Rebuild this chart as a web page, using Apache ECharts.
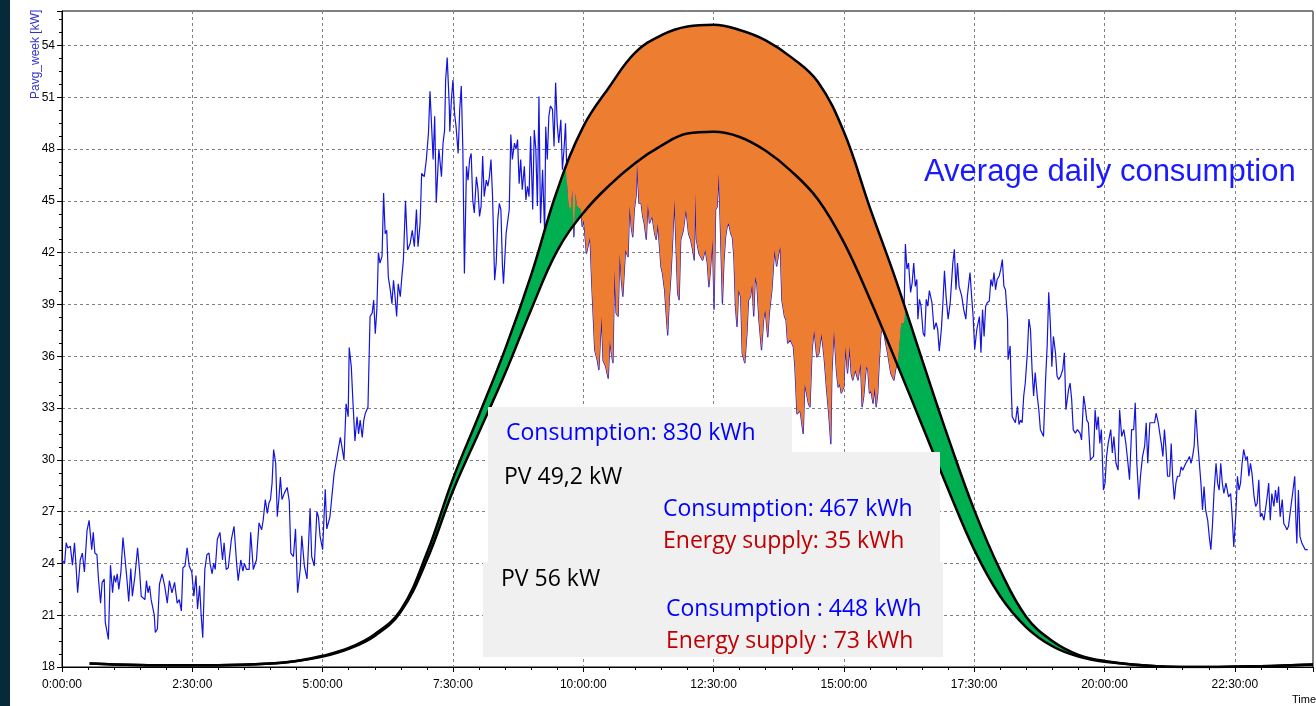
<!DOCTYPE html>
<html>
<head>
<meta charset="utf-8">
<title>Average daily consumption</title>
<script src="https://cdn.jsdelivr.net/npm/echarts@6.0.0/dist/echarts.min.js"></script>
<style>
  html, body { margin: 0; padding: 0; background: #fff; }
  #main { width: 1316px; height: 706px; }
</style>
</head>
<body>
<div id="main"></div>
<script>
// PV production curves (kW) read at these hours
var pvHours = [0.53, 1, 2, 3, 4, 4.5, 5, 5.5, 6, 6.5, 7, 7.5, 8, 8.5, 9, 9.5, 10, 10.5, 11, 11.5, 12, 12.5, 13, 13.5, 14, 14.5, 15, 15.5, 16, 16.5, 17, 17.5, 18, 18.5, 19, 19.5, 20, 21, 22, 23, 24];
var pv56 = [18.2, 18.15, 18.1, 18.1, 18.2, 18.35, 18.65, 19.1, 19.9, 21.3, 24.6, 28.9, 32.6, 36.4, 40.7, 45.6, 49.3, 51.6, 53.6, 54.6, 55.1, 55.2, 54.9, 54.3, 53.3, 51.9, 49.0, 44.6, 40.4, 35.8, 31.3, 27.1, 23.6, 20.9, 19.5, 18.7, 18.35, 18.05, 18.0, 18.05, 18.15];
var pv49 = [18.2, 18.15, 18.1, 18.1, 18.2, 18.35, 18.6, 19.05, 19.8, 21.2, 24.2, 28.2, 31.6, 35.0, 38.7, 42.1, 44.3, 45.9, 47.2, 48.2, 48.9, 49.0, 48.7, 47.9, 46.7, 45.1, 42.6, 39.3, 35.7, 32.0, 28.3, 24.8, 22.1, 20.3, 19.2, 18.6, 18.3, 18.05, 18.0, 18.05, 18.15];

// Pavg_week [kW], [hour, value]
var consumption = [
[0,24.2],[0.05,24.0],[0.08,25.2],[0.11,24.9],[0.16,25.0],[0.2,23.9],[0.24,25.2],[0.27,23.8],[0.3,22.3],[0.35,24.2],
[0.39,24.6],[0.43,23.5],[0.48,25.9],[0.52,26.5],[0.57,24.8],[0.6,25.8],[0.63,24.6],[0.67,24.5],[0.7,23.1],[0.74,21.7],
[0.77,22.9],[0.81,23.1],[0.83,20.6],[0.89,19.6],[0.93,23.9],[0.97,22.3],[1.0,23.3],[1.03,22.9],[1.06,23.4],[1.09,22.5],
[1.13,23.5],[1.17,25.5],[1.24,23.3],[1.28,21.8],[1.32,23.7],[1.35,22.1],[1.4,23.3],[1.45,24.9],[1.49,23.5],[1.52,22.1],
[1.59,21.9],[1.62,23.0],[1.65,22.3],[1.68,22.7],[1.71,21.9],[1.77,21.0],[1.79,20.0],[1.83,20.2],[1.87,22.8],[1.92,23.4],
[1.97,22.7],[2.02,21.7],[2.06,23.0],[2.11,22.3],[2.16,22.9],[2.21,21.7],[2.25,21.9],[2.29,21.25],[2.32,23.75],[2.36,23.85],
[2.4,24.9],[2.44,23.85],[2.49,23.5],[2.53,22.1],[2.57,23.3],[2.6,21.35],[2.64,22.7],[2.67,21.0],[2.7,19.7],[2.74,23.65],
[2.78,24.5],[2.82,24.6],[2.84,24.0],[2.88,23.4],[2.91,24.0],[2.94,23.65],[2.98,25.4],[3.03,25.8],[3.08,24.2],[3.11,25.2],
[3.15,23.65],[3.19,23.75],[3.25,25.4],[3.3,26.15],[3.35,24.0],[3.38,23.0],[3.43,24.2],[3.47,23.55],[3.5,24.0],[3.54,23.65],
[3.59,23.65],[3.62,25.8],[3.67,23.65],[3.73,24.2],[3.78,26.35],[3.83,25.95],[3.86,26.5],[3.9,27.7],[3.94,26.9],[3.97,27.5],
[4.0,27.7],[4.03,28.65],[4.06,30.6],[4.1,29.8],[4.13,26.7],[4.16,27.7],[4.19,29.0],[4.22,27.7],[4.27,28.1],[4.32,28.4],
[4.36,27.6],[4.39,24.6],[4.44,24.4],[4.48,26.0],[4.52,22.3],[4.57,23.65],[4.6,25.6],[4.65,23.85],[4.7,23.1],[4.76,27.2],
[4.79,24.4],[4.84,23.85],[4.89,27.0],[4.92,26.7],[4.95,25.6],[5.0,24.8],[5.05,28.3],[5.08,26.0],[5.14,26.7],
[5.22,29.2],[5.28,30.25],[5.34,31.3],[5.41,30.0],[5.45,33.25],[5.49,32.5],[5.51,36.5],[5.55,35.4],[5.58,33.45],[5.62,31.1],
[5.66,32.5],[5.69,31.5],[5.72,32.3],[5.76,31.3],[5.79,32.3],[5.82,32.7],[5.87,33.05],[5.91,38.3],[5.95,38.5],[5.98,39.25],
[6.01,37.3],[6.04,38.7],[6.07,42.0],[6.1,41.4],[6.14,41.8],[6.17,45.45],[6.2,43.1],[6.23,43.3],[6.26,40.6],[6.3,39.8],
[6.33,39.05],[6.36,40.4],[6.39,39.45],[6.42,38.3],[6.45,40.2],[6.49,39.45],[6.52,40.6],[6.55,41.6],[6.59,45.0],[6.63,42.15],
[6.68,42.55],[6.72,43.3],[6.76,42.35],[6.8,44.5],[6.83,42.35],[6.87,43.7],[6.9,46.6],[6.95,46.4],[6.99,47.4],[7.03,48.9],
[7.06,51.35],[7.09,51.45],[7.12,47.4],[7.15,49.9],[7.18,44.9],[7.23,48.0],[7.28,46.4],[7.31,48.35],[7.34,49.1],[7.36,52.0],
[7.39,53.3],[7.43,50.5],[7.44,49.0],[7.47,50.85],[7.5,52.0],[7.53,50.1],[7.56,49.3],[7.6,47.75],[7.63,50.3],[7.66,51.65],
[7.69,48.0],[7.72,40.8],[7.76,47.0],[7.79,46.2],[7.82,47.4],[7.85,47.75],[7.88,45.05],[7.91,44.3],[7.95,46.4],[7.98,45.65],
[8.01,44.1],[8.04,44.7],[8.07,47.6],[8.1,45.25],[8.14,46.2],[8.17,45.85],[8.2,46.4],[8.23,47.4],[8.26,45.25],[8.3,40.4],
[8.33,41.4],[8.36,43.9],[8.39,44.85],[8.42,44.5],[8.45,41.2],[8.47,40.2],[8.52,43.1],[8.55,43.1],[8.58,44.5],[8.61,48.85],
[8.64,47.4],[8.68,48.35],[8.71,48.0],[8.74,48.55],[8.77,46.0],[8.8,47.4],[8.83,45.65],[8.87,47.0],[8.9,45.05],[8.93,45.85],
[8.96,45.25],[8.99,48.75],[9.03,44.5],[9.06,49.1],[9.09,48.0],[9.12,44.7],[9.15,51.05],[9.18,43.7],[9.22,46.8],[9.26,43.1],
[9.28,49.3],[9.31,47.4],[9.34,49.9],[9.37,50.5],[9.41,50.3],[9.44,48.15],[9.47,51.85],[9.5,49.5],[9.53,48.35],[9.57,49.7],
[9.6,46.8],[9.63,47.95],[9.66,49.5],[9.69,46.0],[9.72,44.7],[9.76,44.5],[9.79,45.65],[9.82,42.9],[9.85,45.45],[9.88,44.7],
[9.95,44.5],[9.98,43.5],[10.01,43.9],
[10.06,41.95],[10.13,42.9],[10.16,40.4],[10.22,36.35],[10.27,35.75],[10.3,35.2],[10.35,38.3],[10.38,35.75],[10.43,35.4],[10.48,34.7],
[10.51,36.9],[10.54,36.15],[10.57,35.6],[10.6,41.0],[10.63,38.5],[10.67,38.3],[10.7,41.95],[10.73,40.4],[10.76,39.45],[10.81,42.15],
[10.86,41.75],[10.89,44.7],[10.92,43.5],[10.95,42.9],[10.98,44.5],[11.02,45.45],[11.03,47.3],[11.07,44.85],[11.11,44.85],[11.14,44.1],
[11.17,43.7],[11.21,42.75],[11.24,44.85],[11.27,43.7],[11.32,44.1],[11.37,43.1],[11.4,42.75],[11.43,43.7],[11.49,41.2],[11.52,40.8],
[11.56,39.85],[11.59,38.5],[11.62,37.2],[11.65,39.25],[11.68,40.6],[11.71,42.35],[11.75,45.05],[11.78,42.35],[11.81,39.65],[11.84,39.25],
[11.87,42.75],[11.92,43.3],[11.97,44.5],[12.02,43.1],[12.06,42.75],[12.1,42.15],[12.13,41.55],[12.15,45.45],[12.17,42.75],[12.22,41.95],
[12.29,41.55],[12.34,42.15],[12.38,41.4],[12.41,40.0],[12.44,41.0],[12.48,42.75],[12.51,38.7],[12.54,44.5],[12.57,44.65],[12.6,46.6],
[12.63,43.5],[12.67,39.05],[12.7,41.55],[12.73,42.9],[12.76,43.5],[12.79,43.7],[12.83,43.1],[12.86,42.9],[12.89,41.75],[12.92,38.85],
[12.95,37.7],[12.98,39.85],[13.02,39.45],[13.05,36.15],[13.1,35.6],[13.14,37.3],[13.17,39.25],[13.21,39.45],[13.24,40.2],[13.27,38.3],
[13.3,40.6],[13.33,40.2],[13.37,38.1],[13.42,36.35],[13.46,38.1],[13.49,38.7],[13.54,37.1],[13.57,38.5],[13.62,39.85],[13.67,42.15],
[13.71,41.2],[13.75,41.95],[13.78,42.35],[13.81,39.25],[13.86,38.3],[13.89,38.1],[13.92,36.75],[13.97,36.95],[14.03,36.55],[14.06,35.4],
[14.1,32.65],[14.16,32.85],[14.22,31.5],[14.25,34.4],[14.32,33.25],[14.35,33.05],[14.39,36.35],[14.43,37.5],[14.48,35.95],[14.52,36.15],
[14.57,37.3],[14.62,35.95],[14.67,34.0],[14.71,32.65],[14.75,30.9],[14.77,35.0],[14.81,37.5],[14.86,35.0],[14.89,34.2],[14.92,34.4],
[14.95,33.85],[15.0,34.2],[15.03,36.55],[15.07,35.0],[15.11,36.55],[15.14,35.0],[15.17,34.6],[15.22,35.2],[15.27,34.6],[15.32,35.6],
[15.35,33.05],[15.38,33.65],[15.43,35.4],[15.46,35.2],[15.49,33.85],[15.52,34.0],[15.56,33.25],[15.59,34.2],[15.62,33.05],[15.65,33.85],
[15.68,35.75],[15.71,37.3],[15.75,37.7],[15.79,36.95],[15.84,36.15],[15.9,35.0],[15.96,34.6],
[15.99,35.2],[16.04,35.8],[16.1,37.9],[16.15,37.9],[16.18,42.5],[16.21,41.05],[16.24,41.4],[16.28,39.7],[16.31,40.25],[16.34,41.4],
[16.37,40.05],[16.4,40.45],[16.42,38.15],[16.45,39.3],[16.48,38.9],[16.52,37.35],[16.55,37.15],[16.58,39.3],[16.61,38.9],[16.64,39.8],
[16.69,39.1],[16.73,37.55],[16.77,37.95],[16.8,37.55],[16.83,36.3],[16.87,37.55],[16.9,39.1],[16.93,40.95],[16.96,39.5],[17.0,38.15],
[17.04,39.1],[17.09,41.4],[17.12,42.2],[17.15,39.85],[17.18,41.4],[17.21,40.05],[17.26,39.5],[17.3,38.7],[17.34,38.15],[17.37,39.5],
[17.42,40.85],[17.45,39.5],[17.48,38.3],[17.51,36.4],[17.55,37.55],[17.6,38.3],[17.63,36.2],[17.66,38.7],[17.69,37.15],[17.72,38.9],
[17.75,39.1],[17.79,39.2],[17.82,40.45],[17.85,40.05],[17.88,40.85],[17.91,39.85],[17.94,40.45],[17.98,40.65],[18.01,41.05],[18.04,41.6],
[18.07,40.05],[18.1,39.85],[18.14,38.15],[18.15,35.8],[18.19,36.6],[18.21,34.25],[18.23,32.5],[18.26,32.6],[18.29,32.15],[18.33,33.1],
[18.36,32.05],[18.39,32.3],[18.42,32.15],[18.45,33.7],[18.48,34.45],[18.52,36.2],[18.55,38.15],[18.58,37.55],[18.61,35.25],[18.64,33.7],
[18.67,35.05],[18.71,33.7],[18.74,32.9],[18.77,31.75],[18.8,31.55],[18.83,31.35],[18.87,34.65],[18.9,36.6],[18.93,39.7],[18.96,37.95],
[18.99,35.4],[19.02,37.15],[19.06,36.2],[19.09,34.85],[19.12,34.65],[19.16,34.85],[19.2,35.25],[19.23,36.2],[19.26,32.9],[19.31,34.05],
[19.34,34.45],[19.37,33.5],[19.4,31.75],[19.44,31.55],[19.48,31.75],[19.53,31.55],[19.56,31.15],[19.6,33.7],[19.63,33.1],[19.66,32.3],
[19.69,32.15],[19.73,30.0],[19.79,30.2],[19.82,32.9],[19.85,31.75],[19.88,32.5],[19.91,30.95],[19.94,31.75],[19.98,28.25],[20.01,28.65],
[20.04,30.2],[20.07,30.95],[20.12,31.75],[20.15,30.4],[20.18,31.35],[20.22,29.8],[20.26,29.4],[20.29,32.9],[20.33,31.35],[20.37,31.75],
[20.41,30.95],[20.45,29.8],[20.48,28.85],[20.52,31.75],[20.56,31.75],[20.59,33.3],[20.62,29.8],[20.66,27.7],[20.69,29.05],[20.73,30.2],
[20.77,30.8],[20.8,32.15],[20.83,29.8],[20.87,32.15],[20.92,32.15],[20.96,32.15],[20.99,32.7],[21.03,32.15],[21.07,31.35],[21.09,30.95],
[21.12,30.2],[21.15,31.75],[21.18,30.6],[21.21,29.05],[21.25,29.05],[21.28,30.95],[21.31,28.85],[21.34,27.7],[21.37,28.65],[21.4,29.05],
[21.44,29.05],[21.47,29.6],[21.5,29.4],[21.53,29.6],[21.56,29.8],[21.6,30.0],[21.63,30.2],[21.66,29.8],[21.69,30.2],[21.72,30.8],
[21.75,32.9],[21.79,30.95],[21.82,29.8],[21.85,28.65],[21.88,27.1],[21.91,28.45],[21.94,27.1],[21.98,26.5],[22.01,25.55],[22.04,24.8],
[22.07,26.15],[22.1,28.05],[22.14,29.8],[22.17,28.65],[22.2,28.25],[22.23,29.8],[22.26,28.65],[22.29,28.05],[22.33,28.65],[22.38,27.85],
[22.42,28.05],[22.45,26.7],[22.48,24.95],[22.52,26.9],[22.55,29.05],[22.58,28.25],[22.61,28.65],[22.64,29.8],[22.67,30.6],[22.71,30.0],
[22.74,30.2],[22.77,29.05],[22.8,29.8],[22.83,29.2],[22.87,27.85],[22.9,27.3],[22.93,27.5],[22.96,28.85],[22.99,26.7],[23.02,26.9],
[23.06,26.5],[23.09,26.5],[23.12,27.85],[23.15,28.65],[23.18,26.5],[23.21,28.05],[23.25,27.3],[23.28,28.25],[23.31,27.5],[23.34,28.45],
[23.37,26.7],[23.41,27.7],[23.44,26.3],[23.47,26.15],[23.5,25.95],[23.53,26.15],[23.56,26.9],[23.6,27.85],[23.65,29.05],[23.67,26.7],
[23.69,25.15],[23.72,28.25],[23.75,25.55],[23.79,25.15],[23.85,24.8],[23.9,24.8]
];

// cubic hermite through the PV points, used to shade between the curves
function pvAt(xs, ys, t) {
  var n = xs.length, i = 0;
  if (t <= xs[0]) return ys[0];
  if (t >= xs[n - 1]) return ys[n - 1];
  while (i < n - 2 && t > xs[i + 1]) i++;
  function slope(k) {
    var a = Math.max(k - 1, 0), b = Math.min(k + 1, n - 1);
    return (ys[b] - ys[a]) / (xs[b] - xs[a]);
  }
  var h = xs[i + 1] - xs[i], s = (t - xs[i]) / h;
  var s2 = s * s, s3 = s2 * s;
  return (2 * s3 - 3 * s2 + 1) * ys[i] + (s3 - 2 * s2 + s) * h * slope(i) +
    (-2 * s3 + 3 * s2) * ys[i + 1] + (s3 - s2) * h * slope(i + 1);
}

// band edges at each consumption sample of the daytime
var bandT = [], bandU = [], bandL = [], bandC = [];
consumption.forEach(function (p) {
  if (p[0] < 6 || p[0] > 19.5) return;
  bandT.push(p[0]);
  bandC.push(p[1]);
  bandU.push(pvAt(pvHours, pv56, p[0]));
  bandL.push(pvAt(pvHours, pv49, p[0]));
});

// green: between PV 49,2 and min(PV 56, consumption); orange: between consumption and PV 56
function bandPolygon(api, which) {
  var top = [], bottom = [];
  for (var i = 0; i < bandT.length; i++) {
    var t = bandT[i], u = bandU[i], l = bandL[i], c = bandC[i];
    var m = Math.min(u, c);
    if (which === 'green') {
      top.push(api.coord([t, Math.max(l, m)]));
      bottom.push(api.coord([t, l]));
    } else {
      top.push(api.coord([t, u]));
      bottom.push(api.coord([t, m]));
    }
  }
  return top.concat(bottom.reverse());
}

function bandSeries(which, color, z) {
  return {
    type: 'custom', name: which, data: [[12, 40]], z: z, silent: true, clip: true,
    renderItem: function (params, api) {
      return {
        type: 'polygon',
        shape: { points: bandPolygon(api, which) },
        style: { fill: color, stroke: null }
      };
    }
  };
}

function pairs(xs, ys) {
  return xs.map(function (x, i) { return [x, ys[i]]; });
}

var chart = echarts.init(document.getElementById('main'));

var labelFont = 'Liberation Sans, Arial, sans-serif';
var boxFont = 'Open Sans, Lato, sans-serif';

function boxText(x, y, txt, color) {
  return {
    type: 'text', left: x, top: y - 10, z: 21,
    style: { text: txt, fill: color, font: '23px ' + boxFont }
  };
}

var option = {
  animation: false,
  backgroundColor: '#fff',
  grid: {
    left: 62, top: 11, width: 1260, height: 656,
    show: true, borderColor: '#000', borderWidth: 1
  },
  xAxis: {
    type: 'value', min: 0, max: 24, interval: 2.5,
    axisLine: { show: true, onZero: false, lineStyle: { color: '#000', width: 1 } },
    axisTick: { show: true, length: 5, lineStyle: { color: '#000' } },
    minorTick: { show: true, splitNumber: 5, length: 3, lineStyle: { color: '#000' } },
    axisLabel: {
      color: '#000', fontSize: 12, fontFamily: labelFont, margin: 12,
      formatter: function (v) {
        if (v > 23.9) return '';
        var h = Math.floor(v), m = Math.round((v - h) * 60);
        return h + ':' + (m < 10 ? '0' : '') + m + ':00';
      }
    },
    splitLine: { show: true, lineStyle: { color: '#808080', type: [3, 3], width: 1 } }
  },
  yAxis: {
    type: 'value', min: 18, max: 56, interval: 3,
    axisLine: { show: true, lineStyle: { color: '#000', width: 1 } },
    axisTick: { show: true, length: 5, lineStyle: { color: '#000' } },
    minorTick: { show: true, splitNumber: 4, length: 3, lineStyle: { color: '#000' } },
    axisLabel: {
      color: '#000', fontSize: 12, fontFamily: labelFont, margin: 7,
      formatter: function (v) { return v > 54.5 ? '' : v; }
    },
    splitLine: { show: true, lineStyle: { color: '#808080', type: [3, 3], width: 1 } }
  },
  series: [
    {
      name: 'Pavg_week', type: 'line', data: consumption, showSymbol: false, z: 2,
      lineStyle: { color: '#1414dc', width: 1.2 }
    },
    bandSeries('green', '#00b050', 3),
    bandSeries('orange', '#ed7d31', 4),
    {
      name: 'PV 56 kW', type: 'line', data: pairs(pvHours, pv56), smooth: 0.4, showSymbol: false, z: 6,
      lineStyle: { color: '#000', width: 2.5 }
    },
    {
      name: 'PV 49,2 kW', type: 'line', data: pairs(pvHours, pv49), smooth: 0.4, showSymbol: false, z: 6,
      lineStyle: { color: '#000', width: 2.5 }
    }
  ],
  graphic: [
    { type: 'rect', shape: { x: 0, y: 0, width: 10, height: 706 }, style: { fill: '#072a3a' }, z: 20 },
    { type: 'rect', shape: { x: 488, y: 407, width: 304, height: 46 }, style: { fill: '#f0f0f0' }, z: 20 },
    { type: 'rect', shape: { x: 488, y: 452, width: 452, height: 111 }, style: { fill: '#f0f0f0' }, z: 20 },
    { type: 'rect', shape: { x: 483, y: 562, width: 460, height: 95 }, style: { fill: '#f0f0f0' }, z: 20 },
    boxText(506, 432, 'Consumption: 830 kWh', '#0000ff'),
    boxText(504, 476, 'PV 49,2 kW', '#000'),
    boxText(663, 508, 'Consumption: 467 kWh', '#0000ff'),
    boxText(663, 540, 'Energy supply: 35 kWh', '#c00000'),
    boxText(501, 578, 'PV 56 kW', '#000'),
    boxText(666, 608, 'Consumption : 448 kWh', '#0000ff'),
    boxText(666, 640, 'Energy supply : 73 kWh', '#c00000'),
    {
      type: 'text', left: 924, top: 157, z: 21,
      style: { text: 'Average daily consumption', fill: '#1a1aff', font: '31px ' + labelFont }
    },
    {
      type: 'text', x: 30, y: 99, rotation: Math.PI / 2, z: 21,
      style: { text: 'Pavg_week [kW]', fill: '#3333cc', font: '12px ' + labelFont }
    },
    {
      type: 'text', left: 1292, top: 694, z: 21,
      style: { text: 'Time', fill: '#000', font: '11px ' + labelFont }
    }
  ]
};

chart.setOption(option);
</script>
</body>
</html>
